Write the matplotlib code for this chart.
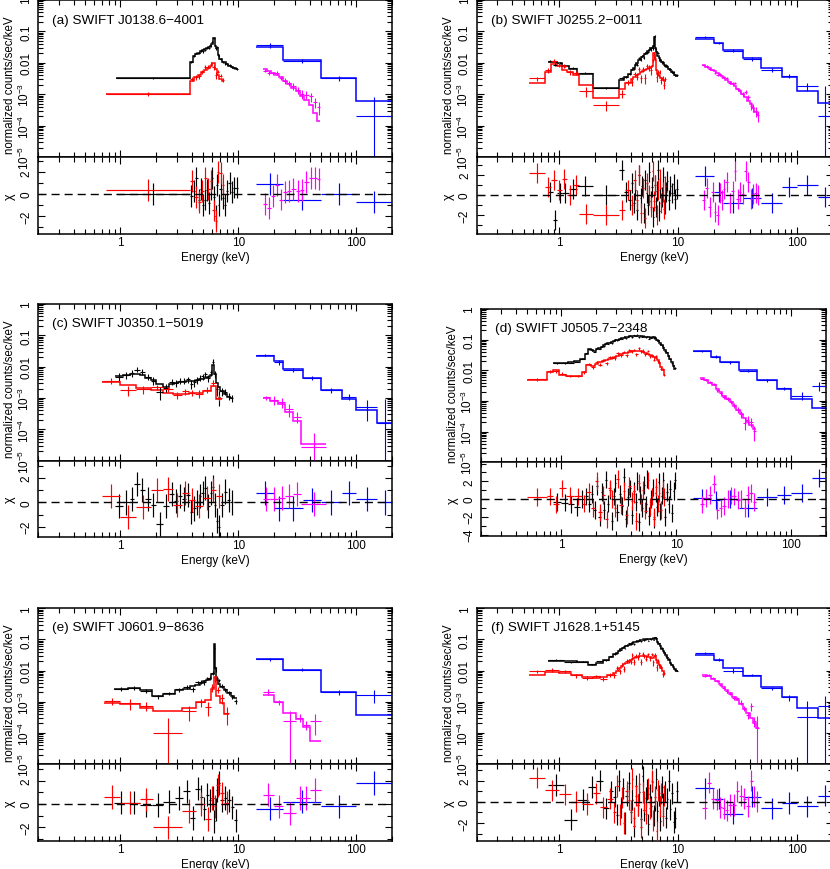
import numpy as np
import matplotlib
matplotlib.use('Agg')
import matplotlib.pyplot as plt
from matplotlib.ticker import MultipleLocator

plt.rcParams['font.family'] = ['Liberation Sans', 'DejaVu Sans']
plt.rcParams['mathtext.fontset'] = 'custom'
plt.rcParams['mathtext.rm'] = 'Liberation Sans'
plt.rcParams['mathtext.it'] = 'Liberation Sans:italic'

# ---- data: bin edges (keV), model (counts/s/keV),
# ---- residuals (chi) and fractional error of each bin
# (a) SWIFT J0138.6-4001
a_blk_edges = [0.91, 3.88, 4.1, 4.3, 4.5, 4.7, 4.9, 5.1, 5.3, 5.5, 5.7, 5.9, 6.1, 6.3, 6.5, 6.7, 6.9, 7.2, 7.5, 7.8, 8.2, 8.6, 9.0, 9.5, 9.9]
a_blk_mod = [3.2e-3, 0.011, 0.016, 0.019, 0.021, 0.023, 0.025, 0.027, 0.029, 0.031, 0.034, 0.04, 0.062, 0.034, 0.03, 0.018, 0.013, 0.011, 0.0105, 0.009, 0.008, 0.0072, 0.0066, 0.0062]
a_blk_chi = [0.0, -0.2, 0.3, 1.5, -0.5, 0.5, -1.0, -0.5, 0.4, -0.8, 0.5, 1.5, -0.3, -2.0, 0.8, -1.0, 0.5, -0.4, -1.0, 0.3, 1.0, 0.2, 0.6, 0.6]
a_blk_err = 0.08
a_red_edges = [0.76, 3.88, 4.2, 4.5, 4.8, 5.1, 5.4, 5.7, 6.0, 6.3, 6.6, 6.9, 7.2, 7.5]
a_red_mod = [1.0e-3, 2.6e-3, 3.6e-3, 4.2e-3, 5.0e-3, 6.0e-3, 7.0e-3, 8.0e-3, 9.5e-3, 6.5e-3, 4.0e-3, 3.0e-3, 2.6e-3]
a_red_chi = [0.35, 1.2, -0.3, -0.7, 0.3, 1.5, 0.5, 1.2, -1.5, -2.5, 2.0, 1.9, 0.8]
a_red_err = 0.15
a_blu_edges = [14, 24, 50, 100, 200]
a_blu_mod = [0.031, 0.0123, 3.2e-3, 6.2e-4]
a_blu_chi = [0.9, -0.5, 0.0, -0.7]
a_blu_err = [0.2, 0.15, 0.2, 0.95]
a_mag_edges = [16, 17.5, 19, 20.5, 22, 24, 26, 28, 30.5, 33, 36, 39.5, 43, 46, 49.5]
a_mag_mod = [6.2e-3, 5.5e-3, 4.8e-3, 4.2e-3, 3.6e-3, 2.6e-3, 2.1e-3, 1.6e-3, 1.25e-3, 9e-4, 6.5e-4, 4.5e-4, 2.6e-4, 1.4e-4]
a_mag_chi = [-0.9, -1.3, -0.2, 0.8, -0.5, 0.2, 0.3, 0.5, 0.3, 0.4, 1.1, 1.5, 1.5, 1.4]
a_mag_err = [0.1, 0.1, 0.12, 0.15, 0.15, 0.2, 0.2, 0.25, 0.3, 0.35, 0.45, 0.6, 0.77, 1.3]

# (b) SWIFT J0255.2-0011
b_blk_edges = [0.80, 0.88, 0.96, 1.05, 1.2, 1.4, 1.9, 3.2, 3.5, 3.8,
               4.0, 4.15, 4.3, 4.45, 4.6, 4.75, 4.9, 5.05, 5.2, 5.35, 5.5, 5.65, 5.8, 5.95, 6.1, 6.25, 6.4,
               6.55, 6.7, 6.85, 7.0, 7.2, 7.4, 7.6, 7.8, 8.0, 8.25, 8.5, 8.75, 9.0, 9.3, 9.6, 9.9]
b_blk_mod = [0.011, 0.011, 0.0095, 0.008, 0.0065, 0.0045, 0.0016, 0.0028, 0.0035, 0.0045,
             0.006, 0.007, 0.0085, 0.01, 0.012, 0.013, 0.015, 0.017, 0.019, 0.021, 0.024, 0.026, 0.028, 0.03,
             0.035, 0.065, 0.03, 0.022, 0.017, 0.014, 0.012, 0.0105, 0.0095, 0.0087, 0.008, 0.0072, 0.0065,
             0.0058, 0.0052, 0.0047, 0.0042, 0.0038]
b_blk_chi = [0.3, -2.5, 0.2, 0.2, 0.6, 0.9, 0.0, 2.5, 0.3, -0.5,
             1.2, -0.8, 0.5, -1.5, 2.0, -0.3, 0.9, -1.8, 1.5, 0.2, -1.0, 2.3, -0.6, 0.8, -2.2, 1.0, -1.2,
             0.4, 2.5, -1.6, 0.7, -0.2, 1.8, -0.9, 0.3, 1.4, -0.5, 0.9, 0.2, 1.1, -0.4, 0.6]
b_blk_err = 0.08
b_red_edges = [0.55, 0.75, 0.85, 0.95, 1.05, 1.15, 1.3, 1.45, 1.9, 3.2, 3.6,
               4.0, 4.2, 4.4, 4.6, 4.8, 5.0, 5.2, 5.4, 5.6, 5.8, 6.0, 6.2, 6.35, 6.5, 6.7, 6.9, 7.1, 7.3, 7.5, 7.7, 7.9]
b_red_mod = [2.2e-3, 5e-3, 9e-3, 8e-3, 6e-3, 5e-3, 4e-3, 2e-3, 7.5e-4, 1.5e-3, 2.2e-3,
             3e-3, 3.5e-3, 4e-3, 4.5e-3, 5e-3, 5.5e-3, 6e-3, 6.5e-3, 7e-3, 7.5e-3, 8e-3, 0.02, 0.012, 6e-3,
             4.5e-3, 3.8e-3, 3.3e-3, 3e-3, 2.8e-3, 2.6e-3]
b_red_chi = [2.2, 0.8, 1.5, 0.5, 1.6, 0.0, 1.0, -1.9, -2.0, -1.5, 0.5,
             -1.0, 1.5, -0.5, 2.0, -1.8, 0.7, -2.3, 1.2, 0.0, -1.2, 2.4, -0.6, 1.0, -2.0, 0.5, 1.6, -0.8,
             0.3, -1.4, 0.9]
b_red_err = 0.2
b_blu_edges = [14, 20, 24, 35, 50, 75, 100, 150, 200]
b_blu_mod = [0.057, 0.042, 0.026, 0.014, 0.0068, 0.0035, 1.3e-3, 5.2e-4]
b_blu_chi = [1.9, 0.3, -0.8, -0.3, -0.8, 0.8, 1.0, -0.2]
b_blu_err = [0.08, 0.1, 0.1, 0.12, 0.15, 0.15, 0.38, 3.0]
b_mag_edges = [16, 17, 18, 19, 20, 21, 22, 23, 24, 25, 26.5, 28, 29.5, 31, 32.5, 34, 36, 38, 40, 42, 44, 46, 48]
b_mag_mod = [8.5e-3, 7.6e-3, 6.8e-3, 6.0e-3, 5.3e-3, 4.7e-3, 4.2e-3, 3.7e-3, 3.3e-3, 2.9e-3, 2.5e-3,
             2.1e-3, 1.8e-3, 1.5e-3, 1.25e-3, 1.0e-3, 8e-4, 6.2e-4, 4.8e-4, 3.6e-4, 2.7e-4, 2.1e-4]
b_mag_chi = [-0.5, 0.7, -1.2, 0.3, -1.7, -2.0, 0.2, -0.5, 0.6, 1.3, -0.8, 0.4, 2.4, -0.4, 0.3, 0.1,
             2.4, 1.3, -0.4, 0.1, 0.2, 0.0]
b_mag_err = [0.05, 0.05, 0.06, 0.06, 0.07, 0.07, 0.08, 0.08, 0.09, 0.1, 0.1, 0.11, 0.12, 0.13, 0.15,
             0.17, 0.2, 0.22, 0.25, 0.3, 0.35, 0.4]

# (c) SWIFT J0350.1-5019
c_blk_edges = [0.9, 1.05, 1.2, 1.3, 1.45, 1.6, 1.8, 2.0, 2.3, 2.6, 2.85, 3.1, 3.35, 3.6, 3.85, 4.1, 4.35,
               4.6, 4.85, 5.1, 5.4, 5.7, 6.0, 6.25, 6.45, 6.7, 7.0, 7.5, 8.0, 8.5, 9.0]
c_blk_mod = [5.2e-3, 5.5e-3, 5.8e-3, 5.8e-3, 5.5e-3, 4.5e-3, 3.8e-3, 2.8e-3, 2.3e-3, 2.8e-3, 3.0e-3,
             3.2e-3, 3.3e-3, 3.4e-3, 3.5e-3, 3.6e-3, 3.7e-3, 3.9e-3, 4.1e-3, 4.4e-3, 4.7e-3, 5.5e-3,
             0.011, 6e-3, 3e-3, 2.2e-3, 1.7e-3, 1.3e-3, 1.1e-3, 1.0e-3]
c_blk_chi = [-0.3, 0.0, 0.3, 1.5, 1.0, 0.3, -0.2, -1.8, -0.3, 0.7, 0.1, 0.5, 0.3, 0.6, -0.8, -0.5, 0.0,
             0.5, 0.8, 1.2, -0.3, 0.8, 1.3, -0.2, -1.5, -2.0, -0.2, 0.9, 0.2, 0.0]
c_blk_err = 0.25
c_red_edges = [0.7, 1.0, 1.35, 1.8, 2.3, 2.8, 3.3, 3.8, 4.3, 5.0, 5.8, 6.5, 7.2]
c_red_mod = [3.2e-3, 2.6e-3, 2.1e-3, 1.8e-3, 1.5e-3, 1.3e-3, 1.35e-3, 1.4e-3, 1.5e-3, 1.7e-3, 2.5e-3, 9e-4]
c_red_chi = [0.5, -1.2, -0.4, 1.0, 1.1, -0.2, 0.8, 0.2, -0.3, 0.4, 1.0, 0.5]
c_red_err = 0.25
c_blu_edges = [14, 20, 24, 35, 50, 75, 100, 150, 200]
c_blu_mod = [0.022, 0.015, 0.0085, 4.3e-3, 1.8e-3, 9e-4, 4.3e-4, 1.6e-4]
c_blu_chi = [0.8, -0.5, -0.5, 0.2, 0.0, 0.8, 0.3, 0.0]
c_blu_err = [0.1, 0.15, 0.12, 0.15, 0.2, 0.3, 0.8, 5.0]
c_mag_edges = [16, 18.5, 21.5, 25, 29, 34, 55]
c_mag_mod = [1e-3, 8e-4, 6.5e-4, 3.5e-4, 1.9e-4, 3.3e-5]
c_mag_chi = [0.3, 0.3, 0.4, 0.5, 0.7, -0.1]
c_mag_err = [0.15, 0.35, 0.4, 0.6, 0.5, 1.5]

# (d) SWIFT J0505.7-2348
d_blk_edges = [0.85, 1.0, 1.15, 1.3, 1.45, 1.6, 1.7, 1.8, 1.9,
               2.0, 2.1, 2.2, 2.3, 2.4, 2.5, 2.6, 2.7, 2.8, 2.9, 3.0, 3.15, 3.3, 3.45, 3.6, 3.75, 3.9, 4.05,
               4.2, 4.35, 4.5, 4.65, 4.8, 4.95, 5.1, 5.3, 5.5, 5.7, 5.9, 6.1, 6.3, 6.5, 6.7, 6.9, 7.1, 7.35,
               7.6, 7.85, 8.1, 8.4, 8.7, 9.0, 9.3, 9.6, 9.9]
d_blk_mod = [0.017, 0.017, 0.018, 0.02, 0.024, 0.035, 0.05, 0.045, 0.043,
             0.05, 0.055, 0.058, 0.065, 0.07, 0.075, 0.08, 0.085, 0.09, 0.095, 0.1, 0.105, 0.11, 0.115,
             0.12, 0.125, 0.13, 0.132, 0.135, 0.135, 0.135, 0.133, 0.13, 0.128, 0.125, 0.122, 0.12, 0.118,
             0.115, 0.118, 0.125, 0.11, 0.1, 0.088, 0.075, 0.065, 0.055, 0.045, 0.037, 0.03, 0.023, 0.018,
             0.014, 0.011]
d_blk_chi = [-0.3, -0.4, -0.6, -0.9, 0.0, 0.3, -0.5, 0.6, -1.2,
             1.5, -2.0, 0.8, -1.2, 2.2, -0.5, 1.0, -2.5, 0.3, 1.8, -1.5, 0.6, -0.8, 2.5, -2.2, 0.2, 1.2,
             -1.8, 0.9, -0.3, 2.0, -2.6, 0.5, -1.0, 1.6, -0.6, 2.3, -1.9, 0.0, 1.3, -2.3, 0.7, -0.9, 1.9,
             -1.4, 0.4, 2.1, -2.0, 0.8, -0.6, 1.1, -1.6, 0.9, 2.1]
d_blk_err = 0.04
d_red_edges = [0.5, 0.75, 0.85, 0.95, 1.1, 1.3, 1.5, 1.65, 1.8,
               1.95, 2.1, 2.25, 2.4, 2.55, 2.7, 2.85, 3.0, 3.2, 3.4, 3.6, 3.8, 4.0, 4.2, 4.4, 4.6, 4.8, 5.0,
               5.25, 5.5, 5.75, 6.0, 6.25, 6.5, 6.75, 7.0, 7.25, 7.5, 7.75, 8.0]
d_red_mod = [5e-3, 9e-3, 0.01, 7e-3, 6.3e-3, 6.3e-3, 9e-3, 0.015, 0.014,
             0.016, 0.018, 0.02, 0.022, 0.024, 0.026, 0.028, 0.03, 0.033, 0.036, 0.038, 0.04, 0.042, 0.043,
             0.044, 0.044, 0.043, 0.04, 0.038, 0.035, 0.032, 0.03, 0.028, 0.025, 0.021, 0.017, 0.013, 0.01,
             0.007]
d_red_chi = [0.2, 0.3, -0.6, 1.2, 0.4, 0.3, -0.5, 0.8, -1.0,
             2.0, -1.5, 0.5, -2.3, 1.2, 0.0, -1.0, 2.3, -0.7, 0.9, -1.8, 1.5, -0.2, 0.6, -2.5, 1.8, -0.4,
             1.0, -1.3, 2.1, -0.9, 0.3, -2.0, 1.4, -0.5, 0.7, -1.2, 1.0, 0.2]
d_red_err = 0.1
d_blu_edges = [14, 20, 24, 35, 50, 75, 100, 150, 200]
d_blu_mod = [0.043, 0.028, 0.018, 0.01, 4.7e-3, 2.4e-3, 1.2e-3, 6e-4]
d_blu_chi = [0.1, -0.1, 0.0, -1.0, 0.2, 0.5, 0.7, 2.4]
d_blu_err = [0.08, 0.1, 0.1, 0.07, 0.12, 0.15, 0.36, 1.8]
d_mag_edges = [16, 17.5, 19, 20.5, 22, 23.5, 25, 27, 29, 31, 33, 35.5, 38, 40.5, 43, 46, 49]
d_mag_mod = [5.5e-3, 4.8e-3, 4e-3, 3.2e-3, 2.5e-3, 2e-3, 1.5e-3, 1.15e-3, 9e-4, 7e-4, 5.2e-4, 3.8e-4,
             2.8e-4, 2.1e-4, 1.6e-4, 1.2e-4]
d_mag_chi = [-0.6, 0.1, 0.5, 1.7, -1.2, -1.0, -0.8, 0.0, 0.4, 0.3, -0.1, 0.0, -1.0, 0.5, 0.7, -0.3]
d_mag_err = [0.05, 0.06, 0.07, 0.08, 0.09, 0.1, 0.12, 0.14, 0.16, 0.18, 0.2, 0.25, 0.3, 0.35, 0.4, 0.45]

# (e) SWIFT J0601.9-8636
e_blk_edges = [0.88, 1.15, 1.45, 1.85, 2.3, 2.9, 3.4, 3.9, 4.3, 4.7, 5.0, 5.3, 5.6, 5.9, 6.15, 6.3, 6.5,
               6.7, 7.0, 7.5, 8.0, 8.6, 9.2, 9.7]
e_blk_mod = [2.6e-3, 2.8e-3, 2.3e-3, 1.5e-3, 1.8e-3, 2.3e-3, 2.6e-3, 3.1e-3, 3.5e-3, 4.0e-3, 4.5e-3,
             5.0e-3, 5.5e-3, 8e-3, 0.07, 0.012, 5e-3, 3.8e-3, 3e-3, 2.3e-3, 1.9e-3, 1.5e-3, 1.3e-3]
e_blk_chi = [0.1, 0.1, -0.1, -0.1, 0.2, 0.5, 1.1, -1.2, 1.3, 0.6, -0.4, 0.8, 0.3, 0.5, -1.5, -0.5, 1.2,
             1.8, 0.3, 0.5, 0.3, -0.3, -1.4]
e_blk_err = 0.15
e_red_edges = [0.72, 1.0, 1.45, 1.9, 3.3, 4.4, 5.2, 5.8, 6.2, 6.5, 7.0, 7.6, 8.3]
e_red_mod = [9e-4, 8.5e-4, 6.5e-4, 5e-4, 6.5e-4, 9.5e-4, 1.1e-3, 2.5e-3, 6e-3, 1.5e-3, 9e-4, 4e-4]
e_red_chi = [0.6, 0.1, 0.4, -2.0, -0.6, 0.0, -1.3, 0.5, -0.2, 1.6, 0.9, 0.1]
e_red_err = [0.3, 0.4, 0.4, 0.4, 0.4, 0.3, 0.3, 0.3, 0.25, 0.4, 0.5, 0.6]
e_blu_edges = [14, 24, 50, 100, 200]
e_blu_mod = [0.024, 0.0105, 2.1e-3, 3.7e-4]
e_blu_chi = [-0.4, 0.2, -0.2, 1.8]
e_blu_err = [0.1, 0.1, 0.2, 1.9]
e_mag_edges = [16, 20, 24, 31, 35, 40, 50]
e_mag_mod = [1.7e-3, 1e-3, 4.5e-4, 2.7e-4, 1.5e-4, 5.5e-5]
e_mag_chi = [0.8, -0.2, -0.8, 0.5, 0.5, 1.2]
e_mag_err = [0.26, 0.2, 0.6, 0.3, 0.4, 2.9]

# (f) SWIFT J1628.1+5145
f_blk_edges = [0.8, 1.1, 1.4, 1.75, 2.05, 2.35, 2.6, 2.85,
               3.0, 3.12, 3.24, 3.36, 3.48, 3.6, 3.75, 3.9, 4.05, 4.2, 4.35, 4.5, 4.65, 4.8, 4.95, 5.1, 5.25,
               5.4, 5.55, 5.7, 5.85, 6.0, 6.15, 6.3, 6.45, 6.6, 6.8, 7.0, 7.2, 7.4, 7.6, 7.8, 8.0, 8.25, 8.5,
               8.75, 9.0, 9.3, 9.6, 9.9]
f_blk_mod = [0.021, 0.02, 0.019, 0.015, 0.018, 0.022, 0.027, 0.033,
             0.038, 0.043, 0.048, 0.053, 0.058, 0.063, 0.068, 0.073, 0.077, 0.081, 0.085, 0.088, 0.091,
             0.094, 0.096, 0.098, 0.1, 0.101, 0.102, 0.103, 0.103, 0.104, 0.105, 0.115, 0.1, 0.085, 0.072,
             0.06, 0.05, 0.042, 0.036, 0.031, 0.026, 0.022, 0.018, 0.015, 0.013, 0.011, 0.0095]
f_blk_chi = [1.6, -1.7, 0.2, 1.4, 2.0, -0.6, 1.0, 0.5,
             -1.2, 2.0, -0.5, 1.3, -2.0, 0.6, 1.8, -1.0, 0.2, -2.3, 1.5, -0.3, 0.9, -1.6, 2.4, -0.8, 0.4,
             1.2, -2.1, 0.7, -0.4, 1.9, -1.3, 0.1, 2.2, -0.9, 0.6, -1.8, 1.4, -0.2, 1.0, -1.5, 0.3, 2.0,
             -0.7, 0.8, -1.9, -1.5, 1.0]
f_blk_err = 0.05
f_red_edges = [0.55, 0.75, 1.0, 1.25, 1.55, 1.9, 2.2, 2.5, 2.8,
               3.0, 3.15, 3.3, 3.45, 3.6, 3.75, 3.9, 4.05, 4.2, 4.35, 4.5, 4.65, 4.8, 4.95, 5.1, 5.3, 5.5,
               5.7, 5.9, 6.1, 6.3, 6.5, 6.7, 6.9, 7.1, 7.3, 7.55, 7.8]
f_red_mod = [7e-3, 9e-3, 8.5e-3, 7e-3, 6e-3, 5.8e-3, 6e-3, 7e-3, 8.5e-3,
             0.01, 0.012, 0.014, 0.016, 0.018, 0.02, 0.022, 0.024, 0.025, 0.027, 0.028, 0.029, 0.03, 0.03,
             0.03, 0.029, 0.028, 0.027, 0.026, 0.025, 0.03, 0.022, 0.018, 0.015, 0.012, 0.0095, 0.0075]
f_red_chi = [2.3, 1.1, 0.7, 0.0, -0.2, 0.8, -0.5, 0.3, -1.0,
             1.5, -1.2, 0.4, -2.0, 1.0, 0.2, -0.8, 2.2, -1.5, 0.6, -0.3, 1.7, -2.4, 0.9, 0.0, -1.1, 1.3,
             -0.6, 2.0, -1.8, 0.5, -2.8, 1.1, -0.4, 0.8, -1.3, 0.6]
f_red_err = 0.15
f_blu_edges = [14, 20, 24, 35, 50, 75, 100, 150, 200]
f_blu_mod = [0.032, 0.022, 0.012, 0.0068, 2.9e-3, 1.4e-3, 6.2e-4, 3e-4]
f_blu_chi = [1.3, 0.3, -1.1, 0.5, -0.6, -0.1, -0.4, 0.6]
f_blu_err = [0.1, 0.1, 0.15, 0.1, 0.12, 0.2, 1.2, 2.5]
f_mag_edges = [16, 17.5, 19, 20.5, 22, 23.5, 25, 26.5, 28.5, 30.5, 32.5, 35, 37.5, 40, 42.5, 45, 48]
f_mag_mod = [7e-3, 6.5e-3, 5.5e-3, 4.5e-3, 3.6e-3, 3.0e-3, 2.4e-3, 1.9e-3, 1.4e-3, 1.1e-3, 8.5e-4,
             6e-4, 4.2e-4, 3e-4, 2e-4, 1.4e-4]
f_mag_chi = [-0.6, 1.8, 0.3, 0.2, -0.5, -0.6, -0.8, -0.3, -0.3, 1.0, 0.6, 0.3, -0.4, 2.0, 0.5, 0.0]
f_mag_err = [0.05, 0.06, 0.07, 0.08, 0.09, 0.1, 0.11, 0.12, 0.14, 0.16, 0.18, 0.2, 0.25, 0.7, 0.4, 1.5]

names = ['(a) SWIFT J0138.6\u22124001', '(b) SWIFT J0255.2\u22120011', '(c) SWIFT J0350.1\u22125019',
         '(d) SWIFT J0505.7\u22122348', '(e) SWIFT J0601.9\u22128636', '(f) SWIFT J1628.1+5145']

BLK, RED, BLU, MAG = 'black', '#ff0000', '#0000ff', '#ff00ff'
W, H = 830.0, 870.0

# panel frames in pixels: left, right, top, middle (split), bottom
frames = [(38, 392, 1, 158, 235), (476.5, 832.5, 1, 158, 235),
          (38, 392, 305, 461.7, 538.3), (481, 826, 310, 463.3, 537.3),
          (38, 392, 609.3, 765, 841.7), (476.5, 832.5, 609.3, 765, 841.7)]
res_lims = [(-3.66, 3.4), (-3.88, 3.75), (-2.88, 3.45), (-4.2, 4.15), (-3.15, 3.43), (-3.67, 3.58)]
res_ticks = [[-2, 0, 2], [-2, 0, 2], [-2, 0, 2], [-4, -2, 0, 2], [-2, 0, 2], [-2, 0, 2]]
title_dy = [20, 20, 19, 19, 19, 19]


def spec(ax, rax, edges, mod, chi, err, col):
    edges = np.asarray(edges, float)
    mod = np.asarray(mod, float)
    chi = np.asarray(chi, float)
    sig = mod * np.asarray(err, float)
    lo, hi = edges[:-1], edges[1:]
    ec = np.sqrt(lo * hi)
    dat = mod + chi * sig
    low = np.clip(dat - sig, 1e-8, None)
    xe = [ec - lo, hi - ec]
    ax.stairs(mod, edges, baseline=None, color=col, lw=1.1, zorder=2)
    ax.errorbar(ec, dat, xerr=xe, yerr=[dat - low, sig], fmt='none', ecolor=col, elinewidth=0.8, zorder=3)
    rax.errorbar(ec, chi, xerr=xe, yerr=1.0, fmt='none', ecolor=col, elinewidth=0.85, zorder=3)


fig = plt.figure(figsize=(8.3, 8.7), dpi=100)

panels = [
    [(a_blk_edges, a_blk_mod, a_blk_chi, a_blk_err, BLK), (a_red_edges, a_red_mod, a_red_chi, a_red_err, RED),
     (a_blu_edges, a_blu_mod, a_blu_chi, a_blu_err, BLU), (a_mag_edges, a_mag_mod, a_mag_chi, a_mag_err, MAG)],
    [(b_blk_edges, b_blk_mod, b_blk_chi, b_blk_err, BLK), (b_red_edges, b_red_mod, b_red_chi, b_red_err, RED),
     (b_blu_edges, b_blu_mod, b_blu_chi, b_blu_err, BLU), (b_mag_edges, b_mag_mod, b_mag_chi, b_mag_err, MAG)],
    [(c_blk_edges, c_blk_mod, c_blk_chi, c_blk_err, BLK), (c_red_edges, c_red_mod, c_red_chi, c_red_err, RED),
     (c_blu_edges, c_blu_mod, c_blu_chi, c_blu_err, BLU), (c_mag_edges, c_mag_mod, c_mag_chi, c_mag_err, MAG)],
    [(d_blk_edges, d_blk_mod, d_blk_chi, d_blk_err, BLK), (d_red_edges, d_red_mod, d_red_chi, d_red_err, RED),
     (d_blu_edges, d_blu_mod, d_blu_chi, d_blu_err, BLU), (d_mag_edges, d_mag_mod, d_mag_chi, d_mag_err, MAG)],
    [(e_blk_edges, e_blk_mod, e_blk_chi, e_blk_err, BLK), (e_red_edges, e_red_mod, e_red_chi, e_red_err, RED),
     (e_blu_edges, e_blu_mod, e_blu_chi, e_blu_err, BLU), (e_mag_edges, e_mag_mod, e_mag_chi, e_mag_err, MAG)],
    [(f_blk_edges, f_blk_mod, f_blk_chi, f_blk_err, BLK), (f_red_edges, f_red_mod, f_red_chi, f_red_err, RED),
     (f_blu_edges, f_blu_mod, f_blu_chi, f_blu_err, BLU), (f_mag_edges, f_mag_mod, f_mag_chi, f_mag_err, MAG)],
]

ylab = ['1', '0.1', '0.01', r'$10^{-3}$', r'$10^{-4}$', r'$10^{-5}$']

for i, (l, r, t, m, b) in enumerate(frames):
    w = r - l
    ax = fig.add_axes([l / W, 1 - m / H, w / W, (m - t) / H])
    rax = fig.add_axes([l / W, 1 - b / H, w / W, (b - m) / H])
    for s in panels[i]:
        spec(ax, rax, *s)

    for a in (ax, rax):
        a.set_xscale('log')
        a.set_xlim(0.2, 200)
        a.tick_params(which='both', direction='in', top=True, right=True, labelsize=8.5, width=0.8)
        a.tick_params(which='major', length=5)
        a.tick_params(which='minor', length=3.3)
        a.tick_params(axis='y', pad=4)
        for sp in a.spines.values():
            sp.set_linewidth(1.1)
    ax.set_yscale('log')
    ax.set_ylim(1e-5, 1)
    ax.set_yticks([1, 0.1, 0.01, 1e-3, 1e-4, 1e-5])
    ax.set_yticklabels(ylab, rotation=90, va='center')
    ax.set_xticks([1, 10, 100])
    ax.tick_params(labelbottom=False)
    ax.set_ylabel('normalized counts/sec/keV', fontsize=8.3)
    ax.yaxis.set_label_coords(-22 / w, 1 - (85 - t) / (m - t) if t < 5 else 1 - 84 / (m - t))

    rax.set_ylim(*res_lims[i])
    rax.set_yticks(res_ticks[i])
    rax.set_yticklabels([str(v).replace('-', '\u2212') for v in res_ticks[i]], rotation=90, va='center')
    rax.yaxis.set_minor_locator(MultipleLocator(1))
    rax.set_xticks([1, 10, 100])
    rax.set_xticklabels(['1', '10', '100'])
    rax.tick_params(axis='x', which='both', pad=1.5)
    rax.axhline(0, color='black', lw=1.0, ls=(0, (5.8, 3.6)), zorder=5)
    rax.set_ylabel('\u03c7', fontsize=9)
    rax.yaxis.set_label_coords(-22 / w, 0.5)
    rax.set_xlabel('Energy (keV)', fontsize=8.5)
    rax.xaxis.set_label_coords(0.5, -17 / (b - m))

    ax.text(14 / w, 1 - title_dy[i] / (m - t), names[i], transform=ax.transAxes,
            ha='left', va='center', fontsize=9.7)

fig.savefig('out.png', dpi=100)
